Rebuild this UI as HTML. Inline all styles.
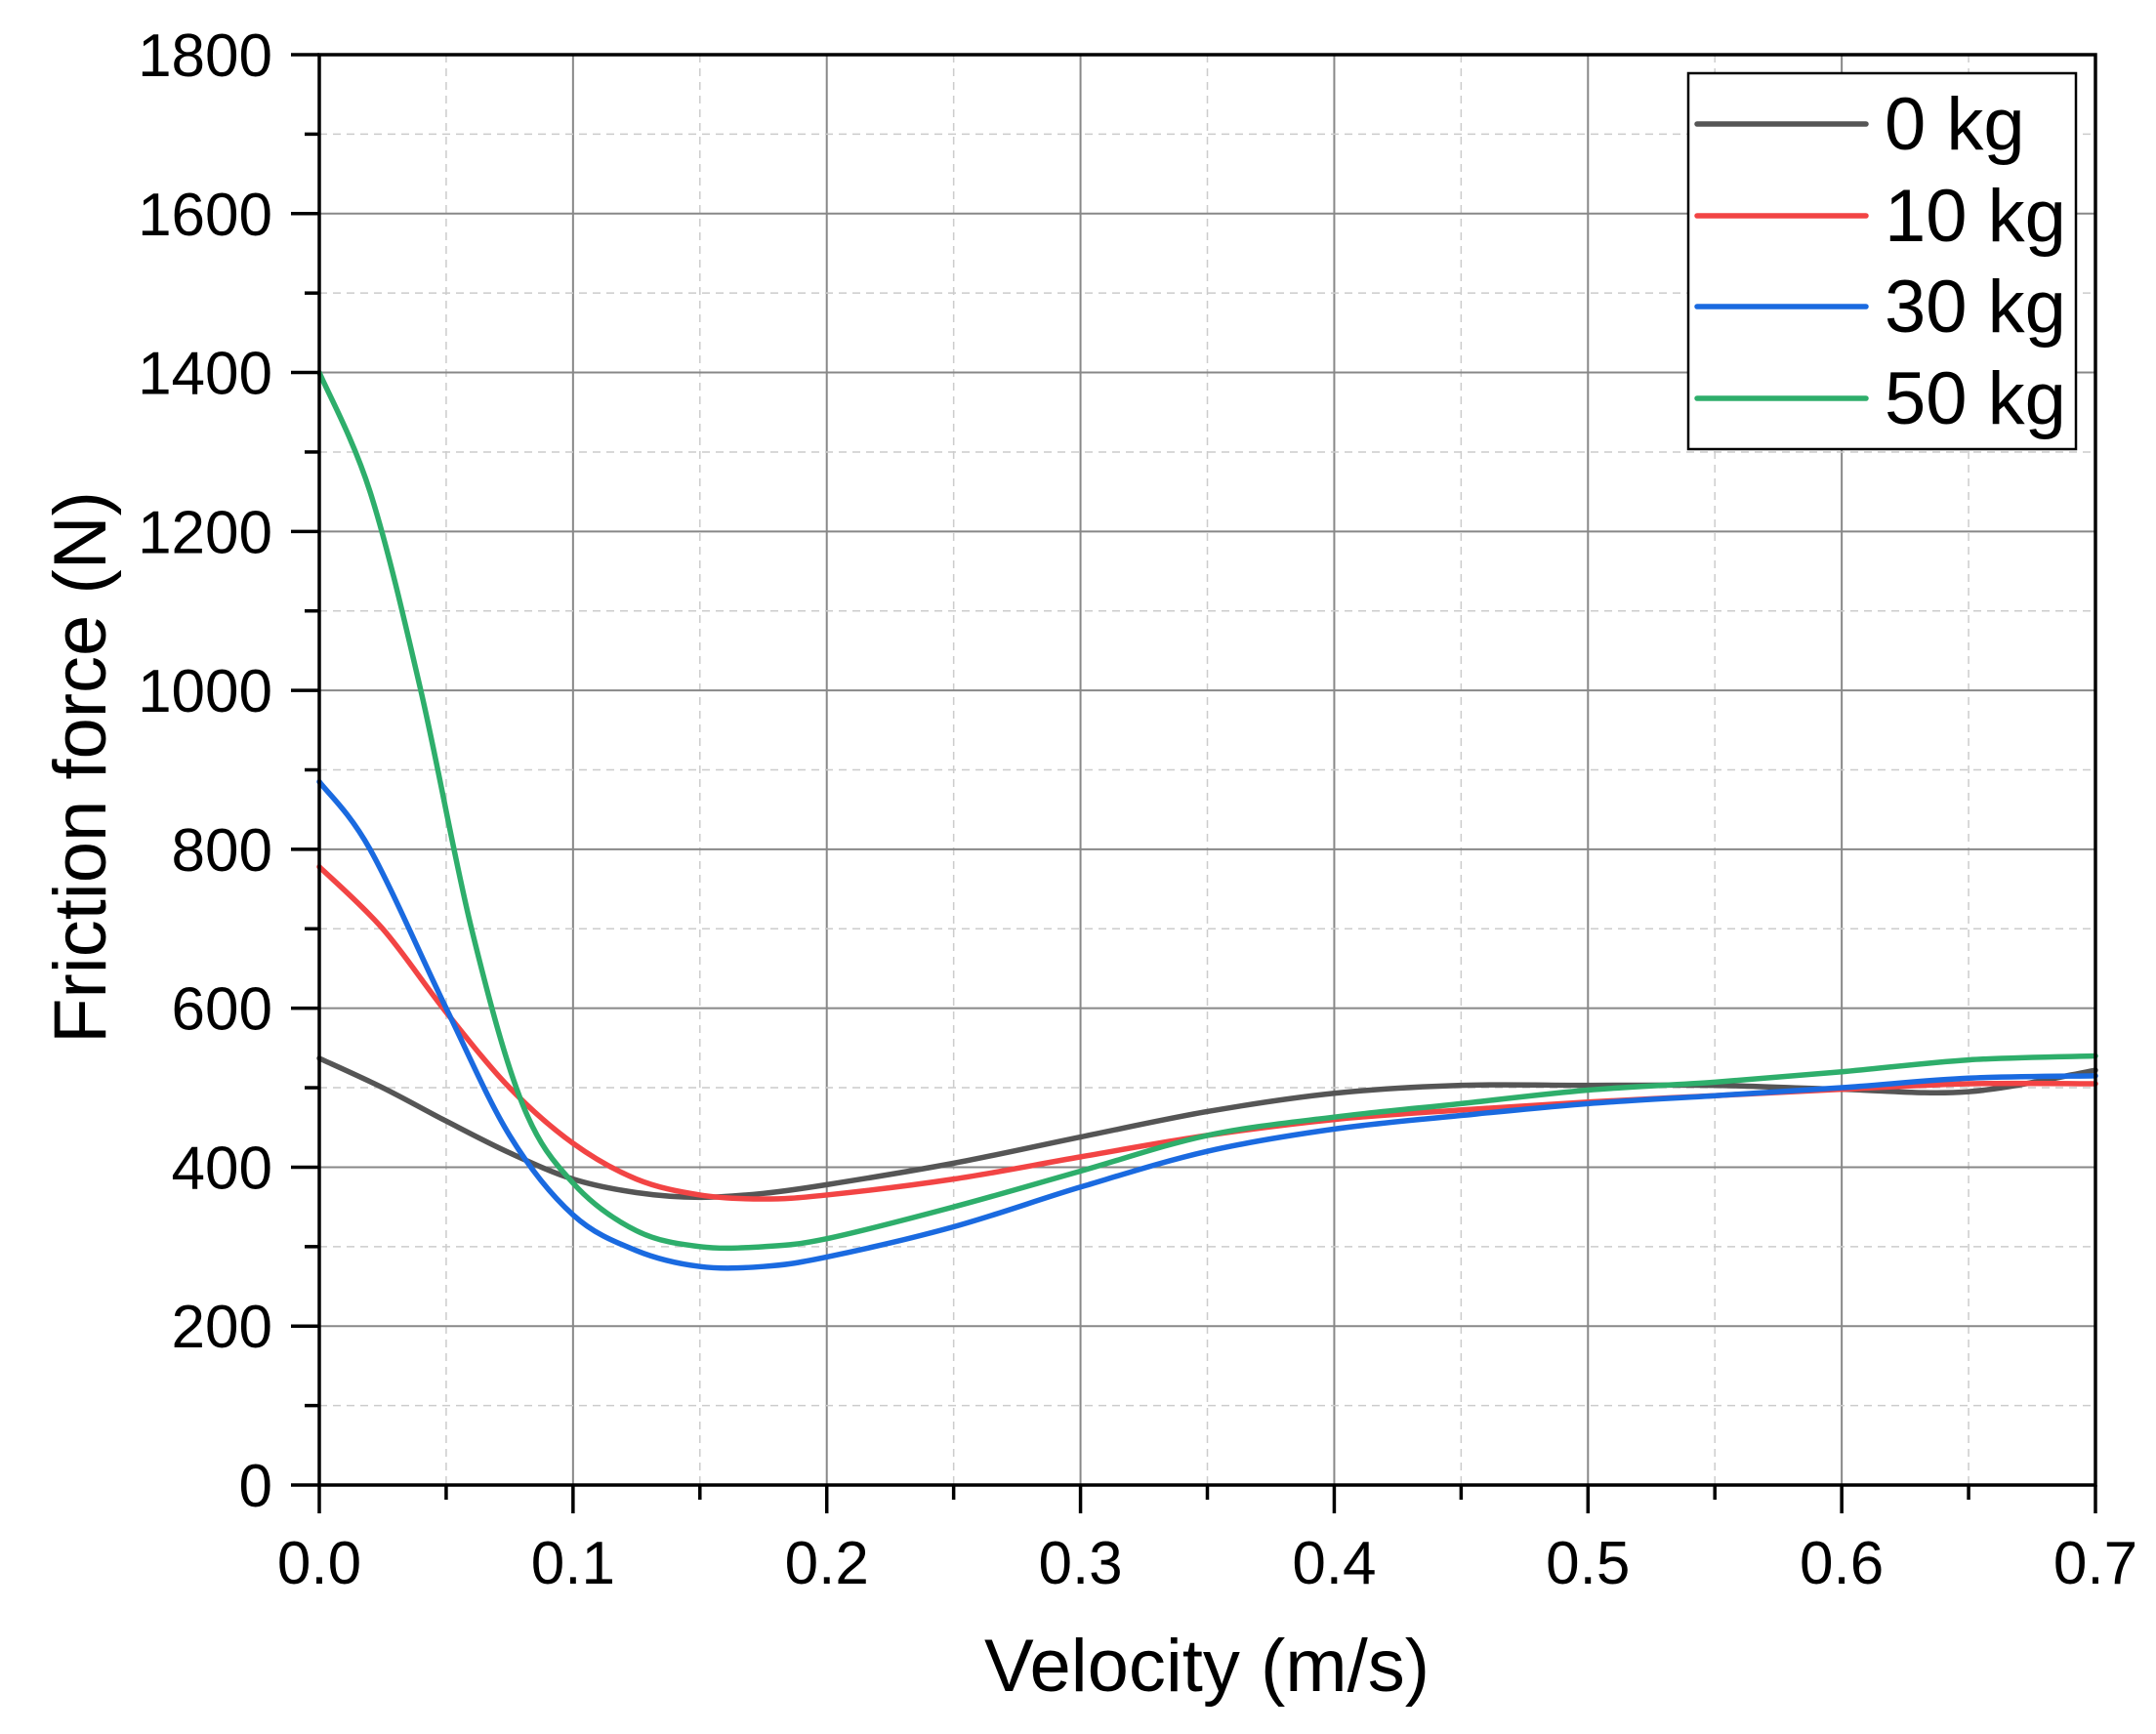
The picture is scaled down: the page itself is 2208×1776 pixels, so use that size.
<!DOCTYPE html>
<html><head><meta charset="utf-8"><style>
html,body{margin:0;padding:0;background:#fff}
svg{display:block}
text{font-family:"Liberation Sans",Arial,sans-serif;fill:#000}
</style></head><body>
<svg id="s" width="2208" height="1776" viewBox="0 0 2208 1776" xmlns="http://www.w3.org/2000/svg">
<g id="grid"></g>
<g id="curves" fill="none" stroke-width="5.5" stroke-linejoin="round" stroke-linecap="round"></g>
<rect x="327" y="56" width="1819" height="1465" fill="none" stroke="#000" stroke-width="3.5"/>
<g id="ticks" stroke="#000" stroke-width="3.5"></g>
<g id="labels" font-size="62"></g>
<text x="1236" y="1732" font-size="76" text-anchor="middle">Velocity (m/s)</text>
<text transform="translate(108,786) rotate(-90)" font-size="76" text-anchor="middle">Friction force (N)</text>
<rect x="1729" y="75" width="397" height="385" fill="#fff" stroke="#000" stroke-width="2.5"/>
<g stroke-width="5.5" stroke-linecap="round">
<line x1="1738" y1="127" x2="1911" y2="127" stroke="#555"/>
<line x1="1738" y1="221" x2="1911" y2="221" stroke="#f24444"/>
<line x1="1738" y1="314" x2="1911" y2="314" stroke="#1a6ae0"/>
<line x1="1738" y1="408" x2="1911" y2="408" stroke="#2eae6b"/>
</g>
<g font-size="76">
<text x="1930" y="153">0 kg</text>
<text x="1930" y="247">10 kg</text>
<text x="1930" y="340">30 kg</text>
<text x="1930" y="434">50 kg</text>
</g>
</svg>
<script>
var L=327,R=2146,T=56,B=1521;
function X(v){return L+v/0.7*(R-L);}
function Y(f){return B-f/1800*(B-T);}
var NS="http://www.w3.org/2000/svg";
function el(p,n,a,t){var e=document.createElementNS(NS,n);for(var k in a)e.setAttribute(k,a[k]);if(t!==undefined)e.textContent=t;document.getElementById(p).appendChild(e);}
for(var i=1;i<14;i++){var v=i*0.05,x=X(v);
 if(i%2==0)el("grid","line",{x1:x,y1:T,x2:x,y2:B,stroke:"#888","stroke-width":2});
 else el("grid","line",{x1:x,y1:T,x2:x,y2:B,stroke:"#ccc","stroke-width":1.5,"stroke-dasharray":"8,6"});}
for(var i=1;i<18;i++){var y=Y(i*100);
 if(i%2==0)el("grid","line",{x1:L,y1:y,x2:R,y2:y,stroke:"#888","stroke-width":2});
 else el("grid","line",{x1:L,y1:y,x2:R,y2:y,stroke:"#ccc","stroke-width":1.5,"stroke-dasharray":"8,6"});}
for(var i=0;i<=14;i++){var x=X(i*0.05);el("ticks","line",{x1:x,y1:B,x2:x,y2:B+(i%2==0?29:15)});
 if(i%2==0)el("labels","text",{x:x,y:1622,"text-anchor":"middle"},(i*0.05).toFixed(1));}
for(var i=0;i<=18;i++){var y=Y(i*100);el("ticks","line",{x1:L,y1:y,x2:L-(i%2==0?29:15),y2:y});
 if(i%2==0)el("labels","text",{x:279,y:y+22,"text-anchor":"end"},String(i*100));}
var D={
"#555":[[0,537],[0.025,500],[0.05,458],[0.075,418],[0.1,385],[0.125,368],[0.15,362],[0.175,367],[0.2,378],[0.25,405],[0.3,438],[0.35,470],[0.4,493],[0.45,503],[0.5,503],[0.55,503],[0.6,498],[0.65,495],[0.7,522]],
"#f24444":[[0,778],[0.025,700],[0.05,595],[0.075,500],[0.1,430],[0.125,385],[0.15,365],[0.175,360],[0.2,365],[0.25,385],[0.3,413],[0.35,440],[0.4,460],[0.45,472],[0.5,482],[0.55,490],[0.6,498],[0.65,505],[0.7,505]],
"#1a6ae0":[[0,885],[0.02,800],[0.05,600],[0.075,440],[0.1,340],[0.125,295],[0.15,275],[0.175,275],[0.2,287],[0.25,325],[0.3,375],[0.35,420],[0.4,448],[0.45,465],[0.5,480],[0.55,490],[0.6,500],[0.65,512],[0.7,515]],
"#2eae6b":[[0,1400],[0.02,1250],[0.04,1000],[0.06,700],[0.08,480],[0.1,380],[0.125,320],[0.15,300],[0.175,300],[0.2,310],[0.25,350],[0.3,395],[0.35,440],[0.4,463],[0.45,480],[0.5,497],[0.55,507],[0.6,520],[0.65,535],[0.7,540]]};
for(var c in D){var p=D[c].map(function(q){return [X(q[0]),Y(q[1])];});
 var d="M"+p[0][0]+","+p[0][1];
 for(var i=0;i<p.length-1;i++){var p0=p[Math.max(i-1,0)],p1=p[i],p2=p[i+1],p3=p[Math.min(i+2,p.length-1)];
  d+=" C"+(p1[0]+(p2[0]-p0[0])/6)+","+(p1[1]+(p2[1]-p0[1])/6)+" "+(p2[0]-(p3[0]-p1[0])/6)+","+(p2[1]-(p3[1]-p1[1])/6)+" "+p2[0]+","+p2[1];}
 el("curves","path",{d:d,stroke:c});}
</script>
</body></html>
